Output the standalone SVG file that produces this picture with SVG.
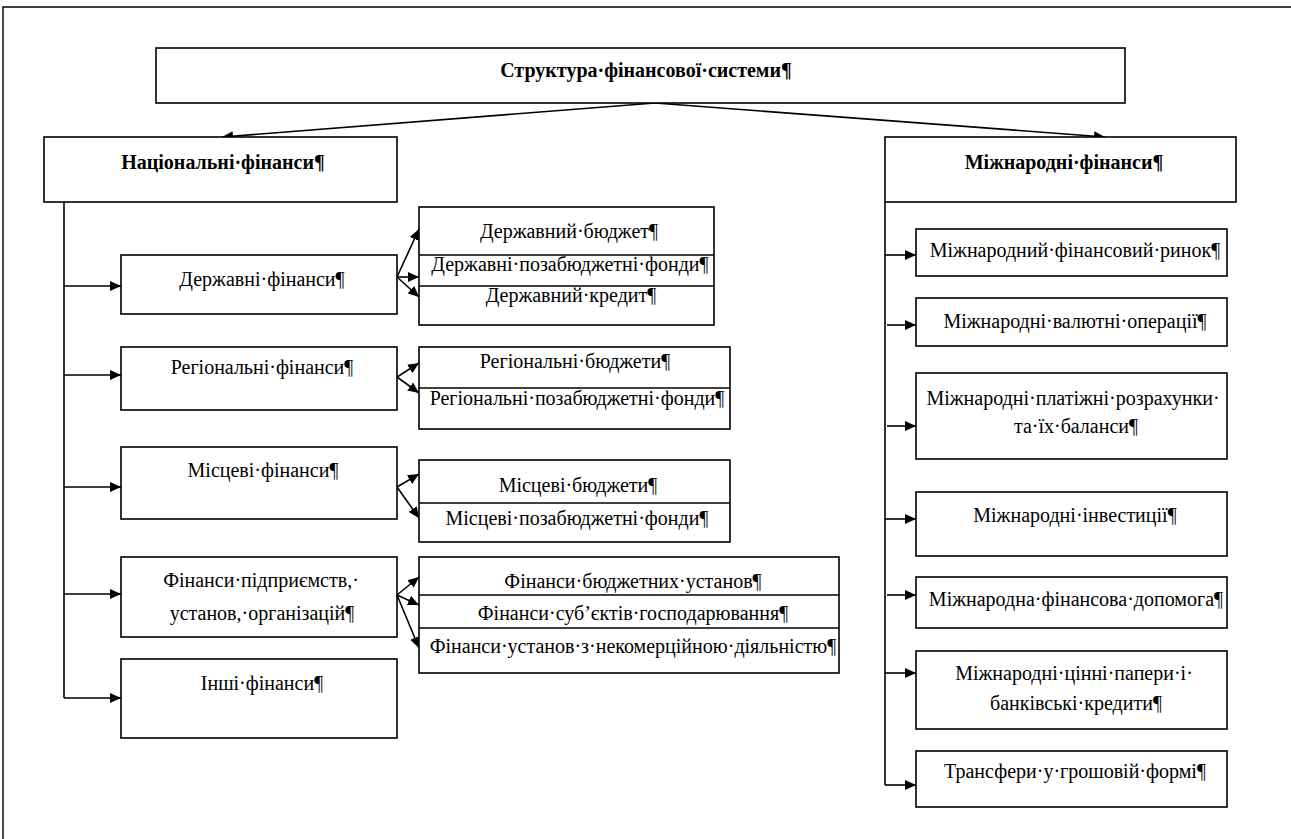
<svg xmlns="http://www.w3.org/2000/svg" width="1291" height="839" viewBox="0 0 1291 839">
<style>
.box{fill:#fff;stroke:#000;stroke-width:1.6}
.div{stroke:#000;stroke-width:1.4;fill:none}
.t{font-family:"Liberation Serif","Times New Roman",serif;font-size:20px;fill:#000;text-anchor:middle}
.b{font-weight:bold}
.c{stroke:#000;stroke-width:1.6;fill:none}
.a{stroke:#000;stroke-width:1.6;fill:none;marker-end:url(#ah)}
</style>
<defs>
<marker id="ah" markerUnits="userSpaceOnUse" markerWidth="12" markerHeight="10" refX="11" refY="5" orient="auto">
<path d="M0,0 L11,5 L0,10 Z" fill="#000"/>
</marker>
</defs>
<rect width="1291" height="839" fill="#fff"/>
<path d="M3,839 V7 H1291" fill="none" stroke="#000" stroke-width="1.4"/>

<g id="connectors">
<line class="a" x1="655" y1="103" x2="222" y2="137"/>
<line class="a" x1="655" y1="103" x2="1105" y2="137"/>
<polyline class="c" points="64,202 64,698"/>
<line class="a" x1="64" y1="286" x2="121" y2="286"/>
<line class="a" x1="64" y1="375" x2="121" y2="375"/>
<line class="a" x1="64" y1="487" x2="121" y2="487"/>
<line class="a" x1="64" y1="594" x2="121" y2="594"/>
<line class="a" x1="64" y1="698" x2="121" y2="698"/>
<line class="a" x1="397" y1="277" x2="419" y2="229"/>
<line class="a" x1="397" y1="277" x2="419" y2="277"/>
<line class="a" x1="397" y1="277" x2="419" y2="297"/>
<line class="a" x1="397" y1="377" x2="419" y2="363"/>
<line class="a" x1="397" y1="377" x2="419" y2="393"/>
<line class="a" x1="397" y1="487" x2="419" y2="474"/>
<line class="a" x1="397" y1="487" x2="419" y2="518"/>
<line class="a" x1="397" y1="595" x2="419" y2="577"/>
<line class="a" x1="397" y1="595" x2="419" y2="605"/>
<line class="a" x1="397" y1="595" x2="419" y2="648"/>
<polyline class="c" points="885,202 885,785"/>
<line class="a" x1="885" y1="255" x2="916" y2="255"/>
<line class="a" x1="887" y1="325" x2="916" y2="325"/>
<line class="a" x1="887" y1="426" x2="916" y2="426"/>
<line class="a" x1="885" y1="519" x2="916" y2="519"/>
<line class="a" x1="887" y1="595" x2="916" y2="595"/>
<line class="a" x1="885" y1="673" x2="916" y2="673"/>
<line class="a" x1="885" y1="785" x2="916" y2="785"/>
</g>

<g id="root">
<rect class="box" x="156" y="48" width="969" height="55" stroke-width="2"/>
<text class="t b" x="646" y="77">Структура·фінансової·системи¶</text>
</g>

<g id="national">
<rect class="box" x="44" y="137" width="353" height="65"/>
<text class="t b" x="223" y="169">Національні·фінанси¶</text>
</g>
<g id="international">
<rect class="box" x="885" y="137" width="351" height="65"/>
<text class="t b" x="1064" y="169">Міжнародні·фінанси¶</text>
</g>

<g id="state">
<rect class="box" x="121" y="255" width="276" height="59"/>
<text class="t" x="262" y="286">Державні·фінанси¶</text>
</g>
<g id="regional">
<rect class="box" x="121" y="347" width="276" height="63"/>
<text class="t" x="262" y="374">Регіональні·фінанси¶</text>
</g>
<g id="local">
<rect class="box" x="121" y="447" width="276" height="72"/>
<text class="t" x="263" y="477">Місцеві·фінанси¶</text>
</g>
<g id="enterprise">
<rect class="box" x="121" y="557" width="276" height="80"/>
<text class="t" x="261" y="587">Фінанси·підприємств,·</text>
<text class="t" x="262" y="620">установ,·організацій¶</text>
</g>
<g id="other">
<rect class="box" x="121" y="659" width="276" height="79"/>
<text class="t" x="262" y="690">Інші·фінанси¶</text>
</g>

<g id="state-sub">
<rect class="box" x="419" y="207" width="295" height="118"/>
<line class="div" x1="419" y1="255" x2="714" y2="255"/>
<line class="div" x1="419" y1="286" x2="714" y2="286"/>
<text class="t" x="569" y="238">Державний·бюджет¶</text>
<text class="t" x="570" y="271">Державні·позабюджетні·фонди¶</text>
<text class="t" x="571" y="302">Державний·кредит¶</text>
</g>
<g id="regional-sub">
<rect class="box" x="419" y="347" width="311" height="82"/>
<line class="div" x1="419" y1="388" x2="730" y2="388"/>
<text class="t" x="575" y="368">Регіональні·бюджети¶</text>
<text class="t" x="577" y="405">Регіональні·позабюджетні·фонди¶</text>
</g>
<g id="local-sub">
<rect class="box" x="419" y="460" width="311" height="82"/>
<line class="div" x1="419" y1="503" x2="730" y2="503"/>
<text class="t" x="578" y="492">Місцеві·бюджети¶</text>
<text class="t" x="577" y="525">Місцеві·позабюджетні·фонди¶</text>
</g>
<g id="enterprise-sub">
<rect class="box" x="419" y="557" width="420" height="116"/>
<line class="div" x1="419" y1="595" x2="839" y2="595"/>
<line class="div" x1="419" y1="628" x2="839" y2="628"/>
<text class="t" x="633" y="588">Фінанси·бюджетних·установ¶</text>
<text class="t" x="633" y="620">Фінанси·суб’єктів·господарювання¶</text>
<text class="t" x="633" y="653">Фінанси·установ·з·некомерційною·діяльністю¶</text>
</g>

<g id="intl-market">
<rect class="box" x="916" y="229" width="311" height="47"/>
<text class="t" x="1075" y="257">Міжнародний·фінансовий·ринок¶</text>
</g>
<g id="intl-currency">
<rect class="box" x="916" y="298" width="311" height="48"/>
<text class="t" x="1075" y="328">Міжнародні·валютні·операції¶</text>
</g>
<g id="intl-payments">
<rect class="box" x="916" y="373" width="311" height="86"/>
<text class="t" x="1073" y="405">Міжнародні·платіжні·розрахунки·</text>
<text class="t" x="1076" y="433">та·їх·баланси¶</text>
</g>
<g id="intl-invest">
<rect class="box" x="916" y="492" width="311" height="64"/>
<text class="t" x="1075" y="522">Міжнародні·інвестиції¶</text>
</g>
<g id="intl-aid">
<rect class="box" x="916" y="577" width="311" height="51"/>
<text class="t" x="1076" y="606">Міжнародна·фінансова·допомога¶</text>
</g>
<g id="intl-securities">
<rect class="box" x="916" y="651" width="311" height="78"/>
<text class="t" x="1074" y="680">Міжнародні·цінні·папери·і·</text>
<text class="t" x="1076" y="710">банківські·кредити¶</text>
</g>
<g id="intl-transfers">
<rect class="box" x="916" y="751" width="311" height="56"/>
<text class="t" x="1075" y="778">Трансфери·у·грошовій·формі¶</text>
</g>
</svg>
